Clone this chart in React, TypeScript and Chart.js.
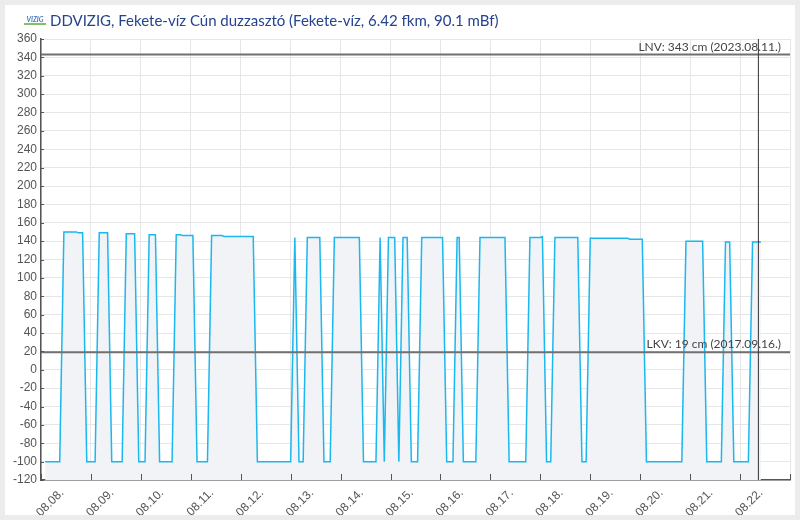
import React, { useEffect, useRef } from 'react';
import { Chart, registerables } from 'chart.js';

Chart.register(...registerables);

const titleText = 'DDVIZIG, Fekete-víz Cún duzzasztó (Fekete-víz, 6.42 fkm, 90.1 mBf)';
const dayLabels = ['08.08.', '08.09.', '08.10.', '08.11.', '08.12.', '08.13.', '08.14.', '08.15.', '08.16.', '08.17.', '08.18.', '08.19.', '08.20.', '08.21.', '08.22.'];

// hours since 08.08. 00:00
const hours = [2, 9, 11, 17, 18, 20, 22, 26, 28, 32, 34, 39, 41, 45, 47, 50, 52, 55, 57, 63, 65, 67, 68, 73, 75, 80, 82, 87, 88, 102, 104, 120, 122, 124, 126, 128, 134, 136, 139, 141, 153, 155, 161, 163, 165, 167, 170, 172, 174, 176, 178, 181, 183, 193, 195, 198, 200, 201, 203, 209, 211, 223, 225, 233, 235, 240, 241, 243, 245, 247, 258, 260, 262, 264, 282, 283, 289, 291, 308, 310, 318, 320, 327, 329, 331, 333, 340, 342, 346];
const levels = [-100, -100, 150, 150, 149, 149, -100, -100, 149, 149, -100, -100, 148, 148, -100, -100, 147, 147, -100, -100, 147, 147, 146, 146, -100, -100, 146, 146, 145, 145, -100, -100, 144, -100, -100, 144, 144, -100, -100, 144, 144, -100, -100, 144, -100, 144, 144, -100, 144, 144, -100, -100, 144, 144, -100, -100, 144, 144, -100, -100, 144, 144, -100, -100, 144, 144, 145, -100, -100, 144, 144, -100, -100, 143, 143, 142, 142, -100, -100, 140, 140, -100, -100, 139, 139, -100, -100, 139, 139];

const thresholdValues = [343, 19];
const thresholdLabels = ['LNV: 343 cm (2023.08.11.)', 'LKV: 19 cm (2017.09.16.)'];
const nowHour = 344.8;

const yMin = -120;
const yMax = 360;
const yStep = 20;
const xMax = dayLabels.length * 24;

const tickFont = "Arial, 'Liberation Sans', sans-serif";

const overlayPlugin = {
  id: 'overlay',
  afterDatasetsDraw(chart: any) {
    const { ctx, chartArea, scales } = chart;
    const x = scales.x;
    const y = scales.y;
    ctx.save();
    // inward tick marks
    ctx.strokeStyle = '#555';
    ctx.lineWidth = 1;
    x.ticks.forEach((t: any) => {
      const px = Math.round(x.getPixelForValue(t.value)) + 0.5;
      ctx.beginPath();
      ctx.moveTo(px, chartArea.bottom);
      ctx.lineTo(px, chartArea.bottom - 6);
      ctx.stroke();
    });
    y.ticks.forEach((t: any) => {
      const py = Math.round(y.getPixelForValue(t.value)) + 0.5;
      ctx.beginPath();
      ctx.moveTo(chartArea.left, py);
      ctx.lineTo(chartArea.left + 3, py);
      ctx.stroke();
    });
    // threshold labels
    ctx.font = '12px Lato';
    ctx.fillStyle = '#444';
    ctx.textAlign = 'right';
    ctx.textBaseline = 'alphabetic';
    thresholdValues.forEach((v, i) => {
      ctx.fillText(thresholdLabels[i], chartArea.right - 9, y.getPixelForValue(v) - 4);
    });
    ctx.restore();
  },
};

export default function App() {
  const canvasRef = useRef<HTMLCanvasElement | null>(null);

  useEffect(() => {
    if (!canvasRef.current) return;
    const gridColor = '#e6e6e6';
    const axisColor = '#555';
    const chart = new Chart(canvasRef.current, {
      type: 'line',
      data: {
        datasets: [
          ...thresholdValues.map((v) => ({
            data: [{ x: 0, y: v }, { x: xMax, y: v }],
            borderColor: '#707070',
            borderWidth: 2,
            pointRadius: 0,
            fill: false,
            order: 1,
          })),
          {
            data: [{ x: nowHour, y: yMin }, { x: nowHour, y: yMax }],
            borderColor: '#333',
            borderWidth: 1,
            pointRadius: 0,
            fill: false,
            order: 0,
          },
          {
            data: hours.map((h, i) => ({ x: h, y: levels[i] })),
            borderColor: '#1ab8ee',
            borderWidth: 1.5,
            backgroundColor: '#f1f3f7',
            fill: 'start',
            pointRadius: 0,
            tension: 0,
            order: 2,
          },
        ],
      },
      options: {
        animation: false,
        responsive: false,
        maintainAspectRatio: false,
        layout: { padding: { top: 34, left: 0, right: 5, bottom: 0 } },
        plugins: {
          legend: { display: false },
          tooltip: { enabled: false },
          title: { display: false },
        },
        scales: {
          x: {
            type: 'linear',
            min: 0,
            max: xMax,
            afterBuildTicks: (scale: any) => {
              const t = dayLabels.map((_, i) => ({ value: i * 24 }));
              t.push({ value: xMax });
              scale.ticks = t;
            },
            afterFit: (scale: any) => {
              scale.height = 35;
              scale.paddingLeft = 0;
              scale.paddingRight = 0;
            },
            ticks: {
              autoSkip: false,
              minRotation: 45,
              maxRotation: 45,
              labelOffset: 21,
              padding: 6,
              color: axisColor,
              font: { family: tickFont, size: 12 },
              callback: (v: any) => dayLabels[Math.round(Number(v) / 24)] ?? '',
            },
            grid: { color: gridColor, drawTicks: false },
            border: { color: axisColor, width: 1.5 },
          },
          y: {
            type: 'linear',
            min: yMin,
            max: yMax,
            afterFit: (scale: any) => {
              scale.width = 36;
            },
            ticks: {
              stepSize: yStep,
              padding: 4,
              color: axisColor,
              font: { family: tickFont, size: 12 },
            },
            grid: { color: gridColor, drawTicks: false },
            border: { color: axisColor, width: 1.5 },
          },
        },
      },
      plugins: [overlayPlugin],
    });
    return () => chart.destroy();
  }, []);

  return (
    <div style={{ position: 'relative', width: 800, height: 520, background: '#ececec', overflow: 'hidden' }}>
      <style>{'body{margin:0;background:#ececec;}'}</style>
      <div style={{ position: 'absolute', left: 5, top: 5, width: 790, height: 510, background: '#fff' }}>
        <canvas ref={canvasRef} width={790} height={510} style={{ position: 'absolute', left: 0, top: 0 }} />
        <div style={{ position: 'absolute', left: 19, top: 6, display: 'flex', alignItems: 'center', whiteSpace: 'nowrap' }}>
          <span style={{ display: 'inline-block', width: 22, marginRight: 4, fontFamily: 'Lato', fontSize: 7, fontWeight: 700, fontStyle: 'italic', color: '#4a78b8', borderBottom: '2px solid #7cc36b', lineHeight: '8px', textAlign: 'center' }}>VIZIG</span>
          <span style={{ fontFamily: 'Lato', fontSize: 15, color: '#24448e', lineHeight: '18px' }}>{titleText}</span>
        </div>
      </div>
    </div>
  );
}
